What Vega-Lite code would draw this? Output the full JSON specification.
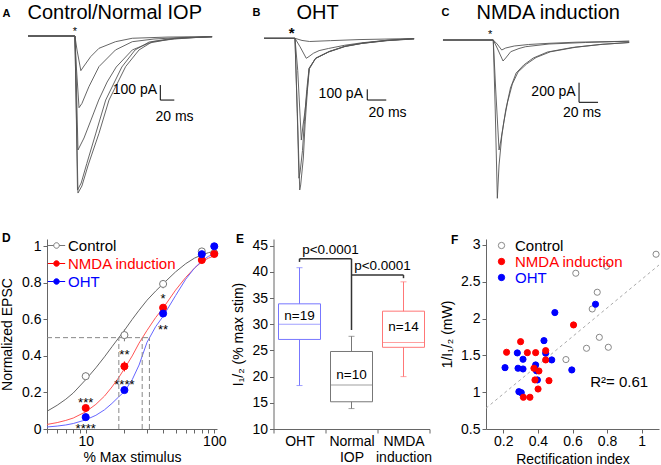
{
"$schema":"https://vega.github.io/schema/vega-lite/v6.json",
"padding":0,
"spacing":21,
"resolve":{"scale":{"stroke":"independent","fill":"independent","color":"independent"},"legend":{"stroke":"independent","fill":"independent","color":"independent"}},
"config":{
 "view":{"stroke":null},
 "font":"Liberation Sans",
 "axis":{"grid":false,"domainColor":"#666666","tickColor":"#666666","labelColor":"#000000","labelFontSize":14,"titleFontSize":14,"titleFontWeight":"normal","titleColor":"#000000","tickSize":4,"labelPadding":1,"labelOverlap":false},
 "legend":{"labelFontSize":15},
 "title":{"fontSize":12,"fontWeight":"bold","color":"#000000","anchor":"start","frame":"group","baseline":"alphabetic","offset":0}
},
"datasets":{
 "trA":[
  {"k":"a1","t":0,"I":0},{"k":"a1","t":67,"I":0},{"k":"a1","t":70,"I":-93},{"k":"a1","t":75.5,"I":-231},{"k":"a1","t":80,"I":-200},{"k":"a1","t":89.5,"I":-138},{"k":"a1","t":101.4,"I":-82},{"k":"a1","t":125,"I":-38},{"k":"a1","t":149,"I":-15},{"k":"a1","t":200,"I":-7},{"k":"a1","t":263,"I":-4},
  {"k":"a2","t":0,"I":0},{"k":"a2","t":67,"I":0},{"k":"a2","t":69,"I":-200},{"k":"a2","t":72.9,"I":-478},{"k":"a2","t":77,"I":-450},{"k":"a2","t":87,"I":-338},{"k":"a2","t":101.4,"I":-204},{"k":"a2","t":125,"I":-93},{"k":"a2","t":149,"I":-38},{"k":"a2","t":180,"I":-20},{"k":"a2","t":220,"I":-10},{"k":"a2","t":263,"I":-5},
  {"k":"a3","t":0,"I":0},{"k":"a3","t":67,"I":0},{"k":"a3","t":69,"I":-300},{"k":"a3","t":71.4,"I":-760},{"k":"a3","t":80,"I":-680},{"k":"a3","t":90,"I":-560},{"k":"a3","t":101,"I":-427},{"k":"a3","t":113,"I":-307},{"k":"a3","t":126,"I":-207},{"k":"a3","t":149,"I":-93},{"k":"a3","t":173,"I":-47},{"k":"a3","t":210,"I":-15},{"k":"a3","t":263,"I":-5},
  {"k":"a4","t":0,"I":0},{"k":"a4","t":67,"I":0},{"k":"a4","t":68.6,"I":-400},{"k":"a4","t":70.7,"I":-1027},{"k":"a4","t":76,"I":-980},{"k":"a4","t":84,"I":-850},{"k":"a4","t":97,"I":-647},{"k":"a4","t":111,"I":-427},{"k":"a4","t":134,"I":-207},{"k":"a4","t":153,"I":-93},{"k":"a4","t":173,"I":-40},{"k":"a4","t":201,"I":-20},{"k":"a4","t":230,"I":-12},{"k":"a4","t":263,"I":-5},
  {"k":"a5","t":0,"I":0},{"k":"a5","t":67,"I":0},{"k":"a5","t":68.6,"I":-400},{"k":"a5","t":71.4,"I":-1047},{"k":"a5","t":77,"I":-1000},{"k":"a5","t":86,"I":-860},{"k":"a5","t":101.4,"I":-649},{"k":"a5","t":115.7,"I":-427},{"k":"a5","t":139.5,"I":-204},{"k":"a5","t":158.6,"I":-93},{"k":"a5","t":177.6,"I":-38},{"k":"a5","t":209,"I":-20},{"k":"a5","t":240,"I":-10},{"k":"a5","t":263,"I":-5}
 ],
 "trB":[
  {"k":"b1","t":0,"I":0},{"k":"b1","t":32.6,"I":0},{"k":"b1","t":35.5,"I":-800},{"k":"b1","t":37.6,"I":-1418},{"k":"b1","t":38.6,"I":-1371},{"k":"b1","t":41.4,"I":-1119},{"k":"b1","t":43.2,"I":-810},{"k":"b1","t":45.6,"I":-499},{"k":"b1","t":47.4,"I":-280},{"k":"b1","t":54.4,"I":-187},{"k":"b1","t":68.4,"I":-125},{"k":"b1","t":85,"I":-75},{"k":"b1","t":103.5,"I":-47},{"k":"b1","t":130,"I":-20},{"k":"b1","t":158,"I":-5},
  {"k":"b2","t":0,"I":0},{"k":"b2","t":32.6,"I":0},{"k":"b2","t":35,"I":-700},{"k":"b2","t":36.8,"I":-1308},{"k":"b2","t":38,"I":-1250},{"k":"b2","t":40.5,"I":-1050},{"k":"b2","t":42.5,"I":-780},{"k":"b2","t":45,"I":-480},{"k":"b2","t":47.4,"I":-285},{"k":"b2","t":54,"I":-190},{"k":"b2","t":68,"I":-128},{"k":"b2","t":85,"I":-78},{"k":"b2","t":103,"I":-48},{"k":"b2","t":130,"I":-22},{"k":"b2","t":158,"I":-6},
  {"k":"b3","t":0,"I":0},{"k":"b3","t":32.6,"I":0},{"k":"b3","t":35.5,"I":-300},{"k":"b3","t":39.3,"I":-951},{"k":"b3","t":41,"I":-820},{"k":"b3","t":43,"I":-690},{"k":"b3","t":45.6,"I":-480},{"k":"b3","t":47.8,"I":-285},{"k":"b3","t":54.5,"I":-185},{"k":"b3","t":69,"I":-122},{"k":"b3","t":86,"I":-73},{"k":"b3","t":104,"I":-45},{"k":"b3","t":130,"I":-18},{"k":"b3","t":158,"I":-4},
  {"k":"b4","t":0,"I":0},{"k":"b4","t":32.6,"I":0},{"k":"b4","t":38,"I":-80},{"k":"b4","t":44.5,"I":-187},{"k":"b4","t":47.4,"I":-170},{"k":"b4","t":52,"I":-140},{"k":"b4","t":58,"I":-115},{"k":"b4","t":68,"I":-95},{"k":"b4","t":85,"I":-65},{"k":"b4","t":103,"I":-42},{"k":"b4","t":130,"I":-18},{"k":"b4","t":158,"I":-4},
  {"k":"b5","t":0,"I":0},{"k":"b5","t":32.6,"I":0},{"k":"b5","t":40,"I":-20},{"k":"b5","t":48,"I":-30},{"k":"b5","t":70,"I":-22},{"k":"b5","t":100,"I":-12},{"k":"b5","t":158,"I":-2}
 ],
 "trC":[
  {"k":"c1","t":0,"I":0},{"k":"c1","t":52.9,"I":0},{"k":"c1","t":55,"I":-700},{"k":"c1","t":57.2,"I":-1583},{"k":"c1","t":59,"I":-1250},{"k":"c1","t":62,"I":-950},{"k":"c1","t":66,"I":-700},{"k":"c1","t":71,"I":-480},{"k":"c1","t":77,"I":-330},{"k":"c1","t":85,"I":-250},{"k":"c1","t":95,"I":-180},{"k":"c1","t":110,"I":-120},{"k":"c1","t":136,"I":-75},{"k":"c1","t":165,"I":-45},{"k":"c1","t":196,"I":-25},
  {"k":"c2","t":0,"I":0},{"k":"c2","t":52.9,"I":0},{"k":"c2","t":55.5,"I":-500},{"k":"c2","t":59,"I":-1100},{"k":"c2","t":61,"I":-1000},{"k":"c2","t":64,"I":-820},{"k":"c2","t":68,"I":-620},{"k":"c2","t":73,"I":-440},{"k":"c2","t":79,"I":-320},{"k":"c2","t":88,"I":-240},{"k":"c2","t":98,"I":-175},{"k":"c2","t":113,"I":-118},{"k":"c2","t":140,"I":-72},{"k":"c2","t":168,"I":-43},{"k":"c2","t":196,"I":-25},
  {"k":"c3","t":0,"I":0},{"k":"c3","t":52.9,"I":0},{"k":"c3","t":57,"I":-80},{"k":"c3","t":63.2,"I":-210},{"k":"c3","t":66,"I":-180},{"k":"c3","t":71.3,"I":-117},{"k":"c3","t":80,"I":-85},{"k":"c3","t":87,"I":-67},{"k":"c3","t":111.6,"I":-40},{"k":"c3","t":150,"I":-25},{"k":"c3","t":196,"I":-12},
  {"k":"c4","t":0,"I":0},{"k":"c4","t":52.9,"I":0},{"k":"c4","t":57,"I":-40},{"k":"c4","t":61.8,"I":-100},{"k":"c4","t":66,"I":-80},{"k":"c4","t":75,"I":-60},{"k":"c4","t":90,"I":-45},{"k":"c4","t":111.6,"I":-33},{"k":"c4","t":140,"I":-22},{"k":"c4","t":196,"I":-12}
 ],
 "sbA":[{"t1":189,"t2":189,"I1":-327,"I2":-427},{"t1":189,"t2":209,"I1":-427,"I2":-427}],
 "sbB":[{"t1":108.7,"t2":108.7,"I1":-477,"I2":-577},{"t1":108.7,"t2":128.7,"I1":-577,"I2":-577}],
 "sbC":[{"t1":143.2,"t2":143.2,"I1":-427,"I2":-623},{"t1":143.2,"t2":163.2,"I1":-623,"I2":-623}],
 "txA":[{"role":"amp","t":184.3,"I":-360,"label":"100 pA"},{"role":"time","t":209.3,"I":-538,"label":"20 ms"},{"role":"stim","t":67.1,"I":27,"label":"*"}],
 "txB":[{"role":"amp","t":104.2,"I":-520,"label":"100 pA"},{"role":"time","t":130,"I":-701,"label":"20 ms"},{"role":"stim","t":29.2,"I":54,"label":"*"}],
 "txC":[{"role":"amp","t":139.7,"I":-517,"label":"200 pA"},{"role":"time","t":146.3,"I":-733,"label":"20 ms"},{"role":"stim","t":49.5,"I":55,"label":"*"}],
 "dCurve":[
  {"s":"Control","x":5,"y":0.097},{"s":"Control","x":6,"y":0.13},{"s":"Control","x":7,"y":0.163},{"s":"Control","x":8,"y":0.197},{"s":"Control","x":10,"y":0.27},{"s":"Control","x":12,"y":0.335},{"s":"Control","x":14,"y":0.395},{"s":"Control","x":16,"y":0.45},{"s":"Control","x":18,"y":0.498},{"s":"Control","x":20,"y":0.54},{"s":"Control","x":23,"y":0.6},{"s":"Control","x":26,"y":0.65},{"s":"Control","x":30,"y":0.705},{"s":"Control","x":35,"y":0.755},{"s":"Control","x":40,"y":0.795},{"s":"Control","x":50,"y":0.86},{"s":"Control","x":60,"y":0.905},{"s":"Control","x":70,"y":0.935},{"s":"Control","x":80,"y":0.953},{"s":"Control","x":90,"y":0.965},{"s":"Control","x":100,"y":0.973},{"s":"Control","x":105,"y":0.976},
  {"s":"NMDA induction","x":5,"y":0.025},{"s":"NMDA induction","x":6,"y":0.035},{"s":"NMDA induction","x":7,"y":0.047},{"s":"NMDA induction","x":8,"y":0.06},{"s":"NMDA induction","x":10,"y":0.094},{"s":"NMDA induction","x":12,"y":0.135},{"s":"NMDA induction","x":14,"y":0.18},{"s":"NMDA induction","x":16,"y":0.23},{"s":"NMDA induction","x":18,"y":0.28},{"s":"NMDA induction","x":20,"y":0.33},{"s":"NMDA induction","x":23,"y":0.4},{"s":"NMDA induction","x":26,"y":0.47},{"s":"NMDA induction","x":30,"y":0.54},{"s":"NMDA induction","x":35,"y":0.61},{"s":"NMDA induction","x":40,"y":0.662},{"s":"NMDA induction","x":50,"y":0.76},{"s":"NMDA induction","x":60,"y":0.83},{"s":"NMDA induction","x":70,"y":0.88},{"s":"NMDA induction","x":80,"y":0.915},{"s":"NMDA induction","x":90,"y":0.935},{"s":"NMDA induction","x":100,"y":0.948},{"s":"NMDA induction","x":105,"y":0.952},
  {"s":"OHT","x":5,"y":0.011},{"s":"OHT","x":6,"y":0.016},{"s":"OHT","x":7,"y":0.022},{"s":"OHT","x":8,"y":0.03},{"s":"OHT","x":10,"y":0.05},{"s":"OHT","x":12,"y":0.075},{"s":"OHT","x":14,"y":0.105},{"s":"OHT","x":16,"y":0.14},{"s":"OHT","x":18,"y":0.175},{"s":"OHT","x":20,"y":0.205},{"s":"OHT","x":23,"y":0.27},{"s":"OHT","x":26,"y":0.35},{"s":"OHT","x":30,"y":0.475},{"s":"OHT","x":35,"y":0.56},{"s":"OHT","x":40,"y":0.617},{"s":"OHT","x":50,"y":0.73},{"s":"OHT","x":60,"y":0.82},{"s":"OHT","x":70,"y":0.88},{"s":"OHT","x":80,"y":0.92},{"s":"OHT","x":90,"y":0.945},{"s":"OHT","x":100,"y":0.958},{"s":"OHT","x":105,"y":0.962}
 ],
 "dDash":[{"x1":5,"x2":31.3,"y1":0.5,"y2":0.5},{"x1":18.1,"x2":18.1,"y1":0,"y2":0.5},{"x1":27.5,"x2":27.5,"y1":0,"y2":0.5},{"x1":31.3,"x2":31.3,"y1":0,"y2":0.5}],
 "dPts":[
  {"s":"Control","x":10,"y":0.289,"lo":0.27,"hi":0.31},{"s":"Control","x":20,"y":0.514,"lo":0.48,"hi":0.545},{"s":"Control","x":40,"y":0.794,"lo":0.77,"hi":0.815},{"s":"Control","x":80,"y":0.972,"lo":0.955,"hi":0.985},{"s":"Control","x":100,"y":0.962,"lo":0.95,"hi":0.975},
  {"s":"NMDA induction","x":10,"y":0.115,"lo":0.105,"hi":0.125},{"s":"NMDA induction","x":20,"y":0.343,"lo":0.315,"hi":0.37},{"s":"NMDA induction","x":40,"y":0.664,"lo":0.645,"hi":0.68},{"s":"NMDA induction","x":80,"y":0.925,"lo":0.905,"hi":0.94},{"s":"NMDA induction","x":100,"y":0.958,"lo":0.95,"hi":0.965},
  {"s":"OHT","x":10,"y":0.065,"lo":0.058,"hi":0.072},{"s":"OHT","x":20,"y":0.213,"lo":0.2,"hi":0.225},{"s":"OHT","x":40,"y":0.632,"lo":0.615,"hi":0.648},{"s":"OHT","x":80,"y":0.957,"lo":0.945,"hi":0.968},{"s":"OHT","x":100,"y":1.0,"lo":0.99,"hi":1.01}
 ],
 "dStars":[{"x":10,"y":0.141,"label":"***"},{"x":10,"y":0.002,"label":"****"},{"x":20,"y":0.406,"label":"**"},{"x":20,"y":0.24,"label":"****"},{"x":40,"y":0.71,"label":"*"},{"x":40,"y":0.544,"label":"**"}],
 "eBox":[
  {"group":"OHT","lower":18.3,"q1":27.1,"median":30.0,"q3":33.9,"upper":40.8,"n":"n=19","ny":31.6},
  {"group":"Normal IOP","lower":13.9,"q1":15.2,"median":18.4,"q3":24.8,"upper":27.7,"n":"n=10","ny":20.3},
  {"group":"NMDA induction","lower":20.0,"q1":25.6,"median":26.5,"q3":32.5,"upper":38.1,"n":"n=14","ny":29.5}
 ],
 "eBr":[
  {"x1":"OHT","x2":"Normal IOP","y1":42.5,"y2":42.5},
  {"x1":"OHT","x2":"OHT","y1":42.5,"y2":41.9},
  {"x1":"Normal IOP","x2":"Normal IOP","y1":42.5,"y2":28.9},
  {"x1":"Normal IOP","x2":"NMDA induction","y1":39.4,"y2":39.4},
  {"x1":"NMDA induction","x2":"NMDA induction","y1":39.4,"y2":38.8}
 ],
 "eP":[{"x":"OHT","y":44.2,"label":"p<0.0001"},{"x":"Normal IOP","y":41.2,"label":"p<0.0001"}],
 "fPts":[
  {"s":"Control","x":1.083,"y":2.873},{"s":"Control","x":0.619,"y":2.615},{"s":"Control","x":0.797,"y":2.71},{"s":"Control","x":0.743,"y":2.357},{"s":"Control","x":0.714,"y":2.13},{"s":"Control","x":0.755,"y":1.745},{"s":"Control","x":0.681,"y":1.596},{"s":"Control","x":0.807,"y":1.61},{"s":"Control","x":0.562,"y":1.443},
  {"s":"OHT","x":0.435,"y":1.7},{"s":"OHT","x":0.281,"y":1.533},{"s":"OHT","x":0.314,"y":1.447},{"s":"OHT","x":0.445,"y":1.529},{"s":"OHT","x":0.48,"y":1.438},{"s":"OHT","x":0.21,"y":1.333},{"s":"OHT","x":0.285,"y":1.325},{"s":"OHT","x":0.314,"y":1.315},{"s":"OHT","x":0.387,"y":1.37},{"s":"OHT","x":0.397,"y":1.166},{"s":"OHT","x":0.596,"y":1.302},{"s":"OHT","x":0.29,"y":1.007},{"s":"OHT","x":0.304,"y":0.993},{"s":"OHT","x":0.498,"y":2.081},{"s":"OHT","x":0.733,"y":2.194},{"s":"OHT","x":0.392,"y":1.29},
  {"s":"NMDA induction","x":0.606,"y":1.913},{"s":"NMDA induction","x":0.3,"y":1.686},{"s":"NMDA induction","x":0.219,"y":1.542},{"s":"NMDA induction","x":0.339,"y":1.537},{"s":"NMDA induction","x":0.387,"y":1.537},{"s":"NMDA induction","x":0.445,"y":1.564},{"s":"NMDA induction","x":0.445,"y":1.438},{"s":"NMDA induction","x":0.377,"y":1.325},{"s":"NMDA induction","x":0.406,"y":1.288},{"s":"NMDA induction","x":0.383,"y":1.166},{"s":"NMDA induction","x":0.464,"y":1.156},{"s":"NMDA induction","x":0.401,"y":1.043},{"s":"NMDA induction","x":0.316,"y":0.931},{"s":"NMDA induction","x":0.354,"y":0.931}
 ],
 "fLine":[{"x":0.1,"y":0.782},{"x":1.1,"y":2.727}],
 "fR2":[{"x":0.702,"y":1.143,"label":"R²= 0.61"}]
},
"vconcat":[
 {"hconcat":[
  {"width":192,"height":210,
   "layer":[
    {"data":{"name":"trA"},"mark":{"type":"line","stroke":"#555555","strokeWidth":0.9},
     "encoding":{
      "x":{"field":"t","type":"quantitative","scale":{"domain":[27.14,301.43],"nice":false,"zero":false},"axis":{"orient":"top","domain":false,"ticks":false,"labels":false,"title":"Control/Normal IOP","titleFontSize":20,"titleX":-20,"titleY":18,"titleAlign":"left","titleBaseline":"alphabetic"}},
      "y":{"field":"I","type":"quantitative","scale":{"domain":[-1160,240],"nice":false,"zero":false},"axis":{"domain":false,"ticks":false,"labels":false,"title":"A","titleAngle":0,"titleFontSize":11,"titleFontWeight":"bold","titleX":-45,"titleY":16,"titleAlign":"left","titleBaseline":"alphabetic"}},
      "detail":{"field":"k"}}},
    {"data":{"name":"sbA"},"mark":{"type":"rule","stroke":"#000000","strokeWidth":1},"encoding":{"x":{"field":"t1","type":"quantitative"},"x2":{"field":"t2"},"y":{"field":"I1","type":"quantitative"},"y2":{"field":"I2"}}},
    {"data":{"name":"txA"},"transform":[{"filter":"datum.role == 'amp'"}],"mark":{"type":"text","fontSize":14,"align":"right","baseline":"middle"},"encoding":{"x":{"field":"t","type":"quantitative"},"y":{"field":"I","type":"quantitative"},"text":{"field":"label"}}},
    {"data":{"name":"txA"},"transform":[{"filter":"datum.role == 'time'"}],"mark":{"type":"text","fontSize":14,"align":"center","baseline":"middle"},"encoding":{"x":{"field":"t","type":"quantitative"},"y":{"field":"I","type":"quantitative"},"text":{"field":"label"}}},
    {"data":{"name":"txA"},"transform":[{"filter":"datum.role == 'stim'"}],"mark":{"type":"text","fontSize":11,"align":"center","baseline":"middle"},"encoding":{"x":{"field":"t","type":"quantitative"},"y":{"field":"I","type":"quantitative"},"text":{"field":"label"}}}
   ]},
  {"width":195,"height":210,
   "layer":[
    {"data":{"name":"trB"},"mark":{"type":"line","stroke":"#555555","strokeWidth":0.9},
     "encoding":{
      "x":{"field":"t","type":"quantitative","scale":{"domain":[-26.32,178.95],"nice":false,"zero":false},"axis":{"orient":"top","domain":false,"ticks":false,"labels":false,"title":"OHT","titleFontSize":20,"titleX":57,"titleY":18,"titleAlign":"left","titleBaseline":"alphabetic"}},
      "y":{"field":"I","type":"quantitative","scale":{"domain":[-1605,358],"nice":false,"zero":false},"axis":{"domain":false,"ticks":false,"labels":false,"title":"B","titleAngle":0,"titleFontSize":11,"titleFontWeight":"bold","titleX":13,"titleY":15,"titleAlign":"left","titleBaseline":"alphabetic"}},
      "detail":{"field":"k"}}},
    {"data":{"name":"sbB"},"mark":{"type":"rule","stroke":"#000000","strokeWidth":1},"encoding":{"x":{"field":"t1","type":"quantitative"},"x2":{"field":"t2"},"y":{"field":"I1","type":"quantitative"},"y2":{"field":"I2"}}},
    {"data":{"name":"txB"},"transform":[{"filter":"datum.role == 'amp'"}],"mark":{"type":"text","fontSize":14,"align":"right","baseline":"middle"},"encoding":{"x":{"field":"t","type":"quantitative"},"y":{"field":"I","type":"quantitative"},"text":{"field":"label"}}},
    {"data":{"name":"txB"},"transform":[{"filter":"datum.role == 'time'"}],"mark":{"type":"text","fontSize":14,"align":"center","baseline":"middle"},"encoding":{"x":{"field":"t","type":"quantitative"},"y":{"field":"I","type":"quantitative"},"text":{"field":"label"}}},
    {"data":{"name":"txB"},"transform":[{"filter":"datum.role == 'stim'"}],"mark":{"type":"text","fontSize":15,"fontWeight":"bold","align":"center","baseline":"middle"},"encoding":{"x":{"field":"t","type":"quantitative"},"y":{"field":"I","type":"quantitative"},"text":{"field":"label"}}}
   ]},
  {"width":226,"height":210,
   "layer":[
    {"data":{"name":"trC"},"mark":{"type":"line","stroke":"#555555","strokeWidth":0.9},
     "encoding":{
      "x":{"field":"t","type":"quantitative","scale":{"domain":[-9.47,228.42],"nice":false,"zero":false},"axis":{"orient":"top","domain":false,"ticks":false,"labels":false,"title":"NMDA induction","titleFontSize":20,"titleX":42,"titleY":18,"titleAlign":"left","titleBaseline":"alphabetic"}},
      "y":{"field":"I","type":"quantitative","scale":{"domain":[-1700,400],"nice":false,"zero":false},"axis":{"domain":false,"ticks":false,"labels":false,"title":"C","titleAngle":0,"titleFontSize":11,"titleFontWeight":"bold","titleX":7,"titleY":15,"titleAlign":"left","titleBaseline":"alphabetic"}},
      "detail":{"field":"k"}}},
    {"data":{"name":"sbC"},"mark":{"type":"rule","stroke":"#000000","strokeWidth":1},"encoding":{"x":{"field":"t1","type":"quantitative"},"x2":{"field":"t2"},"y":{"field":"I1","type":"quantitative"},"y2":{"field":"I2"}}},
    {"data":{"name":"txC"},"transform":[{"filter":"datum.role == 'amp'"}],"mark":{"type":"text","fontSize":14,"align":"right","baseline":"middle"},"encoding":{"x":{"field":"t","type":"quantitative"},"y":{"field":"I","type":"quantitative"},"text":{"field":"label"}}},
    {"data":{"name":"txC"},"transform":[{"filter":"datum.role == 'time'"}],"mark":{"type":"text","fontSize":14,"align":"center","baseline":"middle"},"encoding":{"x":{"field":"t","type":"quantitative"},"y":{"field":"I","type":"quantitative"},"text":{"field":"label"}}},
    {"data":{"name":"txC"},"transform":[{"filter":"datum.role == 'stim'"}],"mark":{"type":"text","fontSize":11,"align":"center","baseline":"middle"},"encoding":{"x":{"field":"t","type":"quantitative"},"y":{"field":"I","type":"quantitative"},"text":{"field":"label"}}}
   ]}
 ],"spacing":0,"bounds":"flush"},
 {"hconcat":[
  {"width":170,"height":190,
   "title":{"text":"D","dx":-45,"dy":12.5},
   "resolve":{"scale":{"stroke":"independent","color":"independent"}},
   "layer":[
    {"data":{"name":"dCurve"},"mark":{"type":"line","strokeWidth":1},
     "encoding":{
      "x":{"field":"x","type":"quantitative","scale":{"type":"log","domain":[5,105],"nice":false},"axis":{"values":[5,6,7,8,9,10,20,30,40,50,60,70,80,90,100],"tickCount":40,"labelExpr":"datum.value == 10 || datum.value == 100 ? datum.label : ''","format":"~g","labelOverlap":false,"title":"% Max stimulus","titlePadding":2}},
      "y":{"field":"y","type":"quantitative","scale":{"domain":[0,1.04],"nice":false,"zero":false},"axis":{"values":[0,0.2,0.4,0.6,0.8,1],"tickCount":20,"format":"~g","labelOverlap":false,"labelPadding":2,"title":"Normalized EPSC","titlePadding":7}},
      "stroke":{"field":"s","type":"nominal","scale":{"domain":["Control","NMDA induction","OHT"],"range":["#666666","#ff5555","#6666ff"]},"legend":null}}},
    {"data":{"name":"dDash"},"mark":{"type":"rule","stroke":"#888888","strokeWidth":1,"strokeDash":[5,3]},
     "encoding":{"x":{"field":"x1","type":"quantitative"},"x2":{"field":"x2"},"y":{"field":"y1","type":"quantitative"},"y2":{"field":"y2"}}},
    {"data":{"name":"dPts"},"mark":{"type":"rule","strokeWidth":1},
     "encoding":{"x":{"field":"x","type":"quantitative"},"y":{"field":"lo","type":"quantitative"},"y2":{"field":"hi"},
      "stroke":{"field":"s","type":"nominal","scale":{"domain":["Control","NMDA induction","OHT"],"range":["#777777","#ff0000","#0000ff"]},"legend":null}}},
    {"data":{"name":"dPts"},"mark":{"type":"point","shape":"circle","size":50,"strokeWidth":1,"opacity":1},
     "encoding":{"x":{"field":"x","type":"quantitative"},"y":{"field":"y","type":"quantitative"},
      "stroke":{"field":"s","type":"nominal","scale":{"domain":["Control","NMDA induction","OHT"],"range":["#777777","#ff0000","#0000ff"]},"legend":null},
      "fill":{"field":"s","type":"nominal","scale":{"domain":["Control","NMDA induction","OHT"],"range":["#ffffff","#ff0000","#0000ff"]},
        "legend":{"orient":"none","legendX":0,"legendY":-3,"padding":0,"rowPadding":0,"title":null,"symbolType":"M-1,0L-0.32,0M0.32,0L1,0M-0.32,0A0.32,0.32,0,1,0,0.32,0A0.32,0.32,0,1,0,-0.32,0Z","symbolSize":300,"symbolStrokeWidth":1,"symbolOpacity":1,"labelFontSize":15,"labelOffset":2,
         "encode":{
          "symbols":{"update":{"stroke":{"signal":"datum.value === 'Control' ? '#777777' : datum.value === 'OHT' ? '#0000ff' : '#ff0000'"},"fill":{"signal":"datum.value === 'Control' ? '#ffffff' : datum.value === 'OHT' ? '#0000ff' : '#ff0000'"},"strokeWidth":{"value":1}}},
          "labels":{"update":{"fill":{"signal":"datum.value === 'Control' ? '#000000' : datum.value === 'OHT' ? '#0000ff' : '#ff0000'"}}}}}}}},
    {"data":{"name":"dStars"},"mark":{"type":"text","fontSize":13,"align":"center","baseline":"middle"},
     "encoding":{"x":{"field":"x","type":"quantitative"},"y":{"field":"y","type":"quantitative"},"text":{"field":"label"}}}
   ]},
  {"width":156,"height":190,
   "title":{"text":"E","dx":-37.5,"dy":11},
   "layer":[
    {"data":{"name":"eBox"},"mark":{"type":"rule","strokeWidth":1},
     "encoding":{
      "x":{"field":"group","type":"nominal","scale":{"domain":["OHT","Normal IOP","NMDA induction"],"paddingInner":0,"paddingOuter":0},"axis":{"title":null,"labelAngle":0,"labelExpr":"indexof(['OHT','Normal IOP','NMDA induction'], datum.value) < 0 ? '' : split(datum.value, ' ')","tickBand":"extent","labelLineHeight":16.5,"labelPadding":1,"labelOverlap":false}},
      "y":{"field":"lower","type":"quantitative","scale":{"domain":[10,46.28],"nice":false,"zero":false},"axis":{"values":[10,15,20,25,30,35,40,45],"tickCount":20,"labelOverlap":false,"labelPadding":2,"title":"I₁/₂ (% max stim)","titlePadding":6}},
      "y2":{"field":"upper"},
      "stroke":{"field":"group","type":"nominal","scale":{"domain":["OHT","Normal IOP","NMDA induction"],"range":["#7777ff","#777777","#ff7777"]},"legend":null}}},
    {"data":{"name":"eBox"},"mark":{"type":"bar","size":42,"fill":"#ffffff","strokeWidth":1},
     "encoding":{"x":{"field":"group","type":"nominal"},"y":{"field":"q1","type":"quantitative"},"y2":{"field":"q3"},
      "stroke":{"field":"group","type":"nominal","legend":null}}},
    {"data":{"name":"eBox"},"mark":{"type":"tick","size":42,"thickness":1,"orient":"horizontal"},
     "encoding":{"x":{"field":"group","type":"nominal"},"y":{"field":"median","type":"quantitative"},
      "color":{"field":"group","type":"nominal","scale":{"domain":["OHT","Normal IOP","NMDA induction"],"range":["#7777ff","#777777","#ff7777"]},"legend":null}}},
    {"data":{"name":"eBox"},"mark":{"type":"tick","size":6,"thickness":1,"orient":"horizontal"},
     "encoding":{"x":{"field":"group","type":"nominal"},"y":{"field":"lower","type":"quantitative"},
      "color":{"field":"group","type":"nominal","legend":null}}},
    {"data":{"name":"eBox"},"mark":{"type":"tick","size":6,"thickness":1,"orient":"horizontal"},
     "encoding":{"x":{"field":"group","type":"nominal"},"y":{"field":"upper","type":"quantitative"},
      "color":{"field":"group","type":"nominal","legend":null}}},
    {"data":{"name":"eBox"},"mark":{"type":"text","fontSize":13.5,"align":"center","baseline":"middle"},
     "encoding":{"x":{"field":"group","type":"nominal"},"y":{"field":"ny","type":"quantitative"},"text":{"field":"n"}}},
    {"data":{"name":"eBr"},"mark":{"type":"rule","stroke":"#333333","strokeWidth":1.5},
     "encoding":{"x":{"field":"x1","type":"nominal","bandPosition":0.5},"x2":{"field":"x2","bandPosition":0.5},"y":{"field":"y1","type":"quantitative"},"y2":{"field":"y2"}}},
    {"data":{"name":"eP"},"mark":{"type":"text","fontSize":13.5,"align":"center","baseline":"middle","dx":5},
     "encoding":{"x":{"field":"x","type":"nominal","bandPosition":1},"y":{"field":"y","type":"quantitative"},"text":{"field":"label"}}}
   ]},
  {"width":173,"height":190,
   "title":{"text":"F","dx":-35,"dy":13.5},
   "layer":[
    {"data":{"name":"fLine"},"mark":{"type":"line","stroke":"#aaaaaa","strokeWidth":1,"strokeDash":[3,3]},
     "encoding":{
      "x":{"field":"x","type":"quantitative","scale":{"domain":[0.1,1.1],"nice":false,"zero":false},"axis":{"values":[0.2,0.4,0.6,0.8,1],"tickCount":20,"format":"~g","labelOverlap":false,"title":"Rectification index","titlePadding":4}},
      "y":{"field":"y","type":"quantitative","scale":{"domain":[0.5,3.08],"nice":false,"zero":false},"axis":{"values":[0.5,1,1.5,2,2.5,3],"tickCount":20,"format":"~g","labelOverlap":false,"labelPadding":2,"title":"1/I₁/₂ (mW)","titlePadding":6}}}},
    {"data":{"name":"fPts"},"mark":{"type":"point","shape":"circle","size":38,"strokeWidth":1,"opacity":1},
     "encoding":{"x":{"field":"x","type":"quantitative"},"y":{"field":"y","type":"quantitative"},
      "stroke":{"field":"s","type":"nominal","scale":{"domain":["Control","NMDA induction","OHT"],"range":["#888888","#ff0000","#0000ff"]},"legend":null},
      "fill":{"field":"s","type":"nominal","scale":{"domain":["Control","NMDA induction","OHT"],"range":["#ffffff","#ff0000","#0000ff"]},
        "legend":{"orient":"none","legendX":8,"legendY":-1,"padding":0,"rowPadding":0,"title":null,"symbolType":"circle","symbolSize":40,"symbolStrokeWidth":1,"symbolOpacity":1,"labelFontSize":15,"labelOffset":6,
         "encode":{
          "symbols":{"update":{"stroke":{"signal":"datum.value === 'Control' ? '#888888' : datum.value === 'OHT' ? '#0000ff' : '#ff0000'"},"fill":{"signal":"datum.value === 'Control' ? '#ffffff' : datum.value === 'OHT' ? '#0000ff' : '#ff0000'"},"strokeWidth":{"value":1}}},
          "labels":{"update":{"fill":{"signal":"datum.value === 'Control' ? '#000000' : datum.value === 'OHT' ? '#0000ff' : '#ff0000'"}}}}}}}},
    {"data":{"name":"fR2"},"mark":{"type":"text","fontSize":15,"align":"left","baseline":"middle"},
     "encoding":{"x":{"field":"x","type":"quantitative"},"y":{"field":"y","type":"quantitative"},"text":{"field":"label"}}}
   ]}
 ],"spacing":56.5,"bounds":"flush",
 "resolve":{"scale":{"stroke":"independent","fill":"independent","color":"independent"},"legend":{"stroke":"independent","fill":"independent","color":"independent"}}}
]
}
